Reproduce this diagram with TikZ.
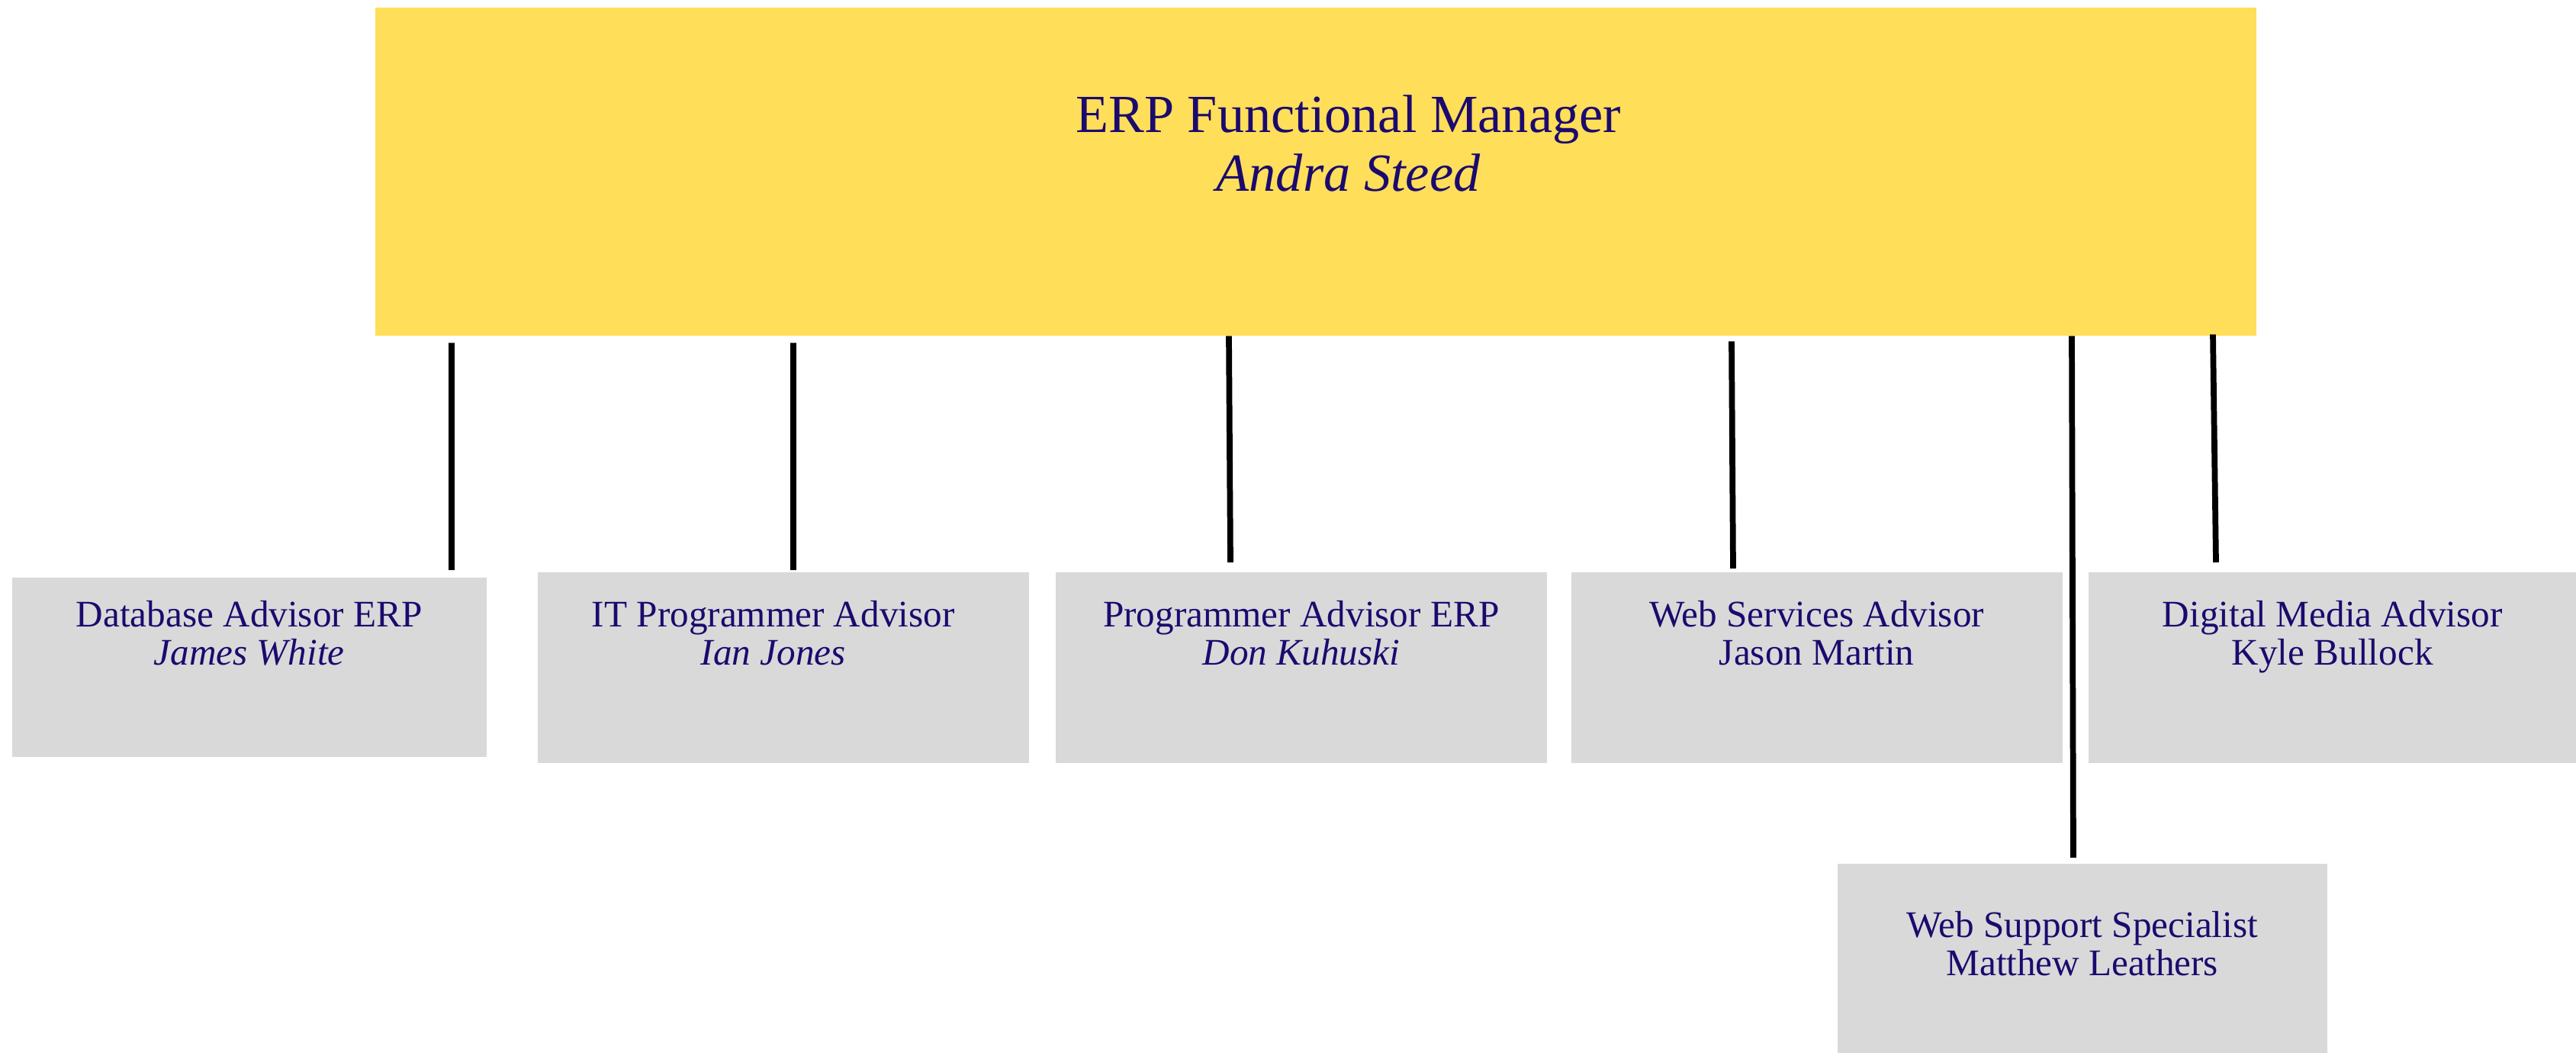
\documentclass[tikz,border=0pt]{standalone}
\usepackage{fontspec}
\setmainfont{Liberation Serif}
\definecolor{bossfill}{HTML}{FFDE59}
\definecolor{stafffill}{HTML}{D9D9D9}
\definecolor{ink}{RGB}{27,10,110}
\tikzstyle{bossbox} = [fill=bossfill, anchor=north west, minimum width=24.66cm, minimum height=4.30cm, inner sep=0]
\tikzstyle{staffbox} = [fill=stafffill, anchor=north west, minimum width=6.44cm, minimum height=2.50cm, inner sep=0]
\tikzstyle{rolename} = [align=center, anchor=north, inner sep=0, text=ink, font={\fontsize{14}{14}\selectfont}]
\tikzstyle{link} = [draw=black, line width=2.2pt]

\begin{document}
\begin{tikzpicture}
    \useasboundingbox (0,0) rectangle (33.77,-13.79);
    \node[bossbox,label={[rolename,font={\fontsize{20}{22}\selectfont},xshift=0.43cm,yshift=-1.15cm]north:{ERP Functional Manager\\\textit{Andra Steed}}}](mgr) at (4.91,-0.09){};
    \node[staffbox,minimum width=6.22cm,minimum height=2.35cm,label={[rolename,yshift=-0.31cm]north:{Database Advisor ERP\\\textit{James White}}}](dba) at (0.15,-7.56){};
    \node[staffbox,label={[rolename,xshift=-0.13cm,yshift=-0.38cm]north:{IT Programmer Advisor\\\textit{Ian Jones}}}](itprog) at (7.04,-7.49){};
    \node[staffbox,label={[rolename,yshift=-0.38cm]north:{Programmer Advisor ERP\\\textit{Don Kuhuski}}}](progerp) at (13.83,-7.49){};
    \node[staffbox,label={[rolename,yshift=-0.38cm]north:{Web Services Advisor\\Jason Martin}}](websvc) at (20.59,-7.49){};
    \node[staffbox,minimum width=6.40cm,label={[rolename,yshift=-0.38cm]north:{Digital Media Advisor\\Kyle Bullock}}](media) at (27.37,-7.49){};
    \node[staffbox,minimum width=6.42cm,minimum height=2.48cm,label={[rolename,yshift=-0.63cm]north:{Web Support Specialist\\Matthew Leathers}}](websup) at (24.08,-11.31){};
    \draw[link]([xshift=1.01cm,yshift=-0.09cm]mgr.south west)--([xshift=5.77cm,yshift=0.09cm]dba.north west);
    \draw[link]([xshift=5.49cm,yshift=-0.09cm]mgr.south west)--([xshift=3.36cm,yshift=0.02cm]itprog.north west);
    \draw[link]([xshift=11.20cm]mgr.south west)--([xshift=2.30cm,yshift=0.12cm]progerp.north west);
    \draw[link]([xshift=17.79cm,yshift=-0.07cm]mgr.south west)--([xshift=2.13cm,yshift=0.04cm]websvc.north west);
    \draw[link]([xshift=22.25cm]mgr.south west)--([xshift=3.10cm,yshift=0.07cm]websup.north west);
    \draw[link]([xshift=24.10cm,yshift=0.02cm]mgr.south west)--([xshift=1.68cm,yshift=0.12cm]media.north west);
\end{tikzpicture}
\end{document}
